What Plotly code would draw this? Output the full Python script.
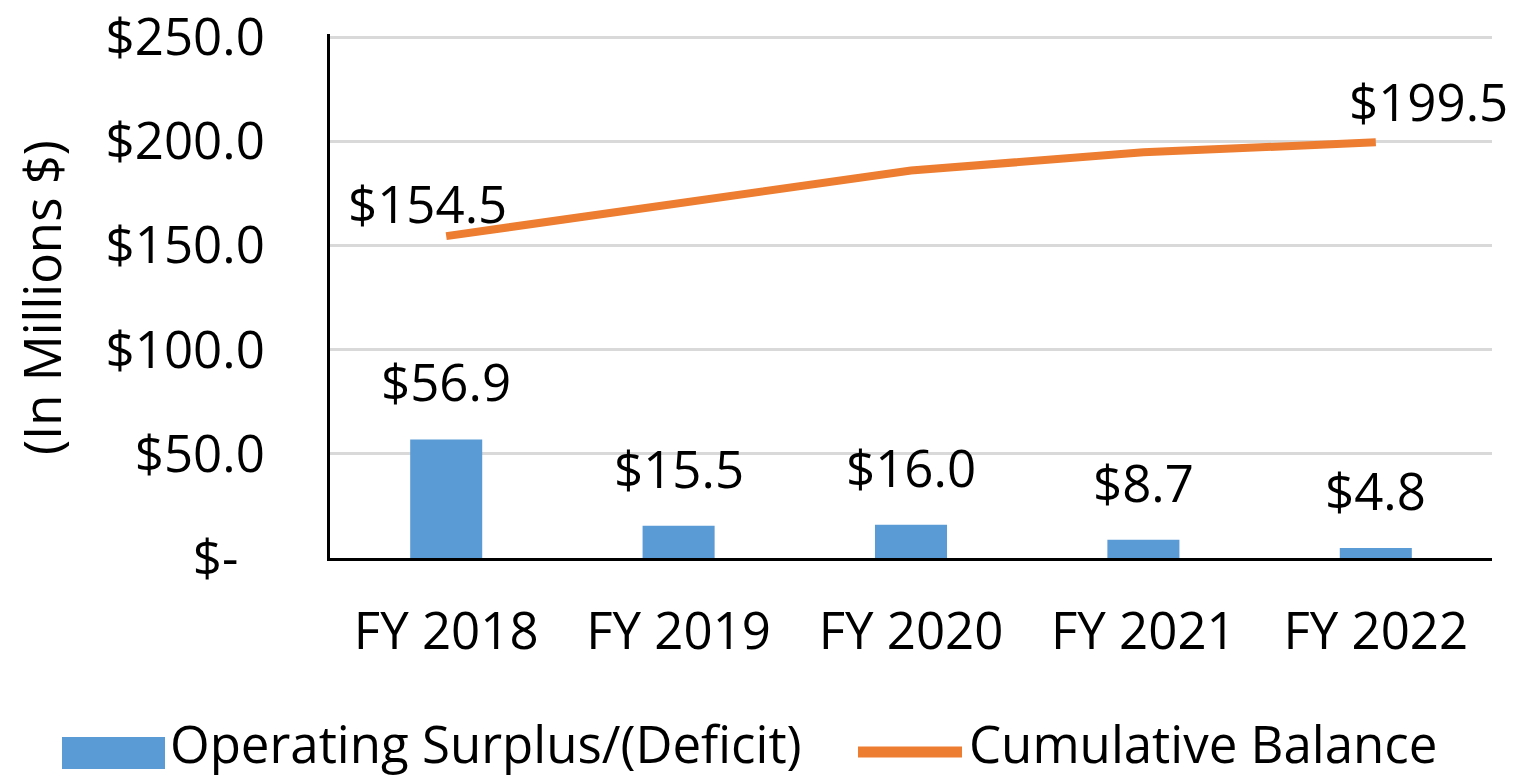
import plotly.graph_objects as go

categories = ["FY 2018", "FY 2019", "FY 2020", "FY 2021", "FY 2022"]
surplus = [56.9, 15.5, 16.0, 8.7, 4.8]
cumulative = [154.5, 170.0, 186.0, 194.7, 199.5]
y_tickvals = [0, 50, 100, 150, 200, 250]
y_ticktext = ["$-\u00a0\u00a0", "$50.0", "$100.0", "$150.0", "$200.0", "$250.0"]

FONT = "Open Sans"
FS = 51
BLUE = "#5B9BD5"
ORANGE = "#ED7D31"

W, H = 1517, 778
ML, MR, MT, MB = 330, 25, 34, 220
PW = W - ML - MR
PH = H - MT - MB


def px_x(px):
    return (px - ML) / PW


def px_y(py):
    return (H - MB - py) / PH


fig = go.Figure()
fig.add_trace(go.Bar(x=categories, y=surplus, name="Operating Surplus/(Deficit)",
                     marker=dict(color=BLUE, line=dict(width=0)), width=0.31,
                     showlegend=False))
fig.add_trace(go.Scatter(x=categories, y=cumulative, name="Cumulative Balance",
                         mode="lines", line=dict(color=ORANGE, width=8),
                         showlegend=False))

annotations = []
for c, v in zip(categories, surplus):
    annotations.append(dict(x=c, y=v, text=f"${v:.1f}", showarrow=False,
                            yanchor="bottom", yshift=21,
                            font=dict(family=FONT, size=FS, color="#000")))
annotations.append(dict(x=categories[0], y=cumulative[0], text=f"${cumulative[0]:.1f}",
                        showarrow=False, xanchor="center", yanchor="middle",
                        xshift=-19, yshift=33,
                        font=dict(family=FONT, size=FS, color="#000")))
annotations.append(dict(x=categories[-1], y=cumulative[-1], text=f"${cumulative[-1]:.1f}",
                        showarrow=False, xanchor="center", yanchor="middle",
                        xshift=53, yshift=41,
                        font=dict(family=FONT, size=FS, color="#000")))
# y-axis title
annotations.append(dict(xref="paper", yref="paper", x=px_x(41), y=px_y(298),
                        text="(In Millions $)", textangle=-90, showarrow=False,
                        xanchor="center", yanchor="middle",
                        font=dict(family=FONT, size=FS, color="#000")))
# legend texts
annotations.append(dict(xref="paper", yref="paper", x=px_x(169), y=px_y(743),
                        text="Operating Surplus/(Deficit)", showarrow=False,
                        xanchor="left", yanchor="middle", borderpad=0,
                        font=dict(family=FONT, size=FS, color="#000")))
annotations.append(dict(xref="paper", yref="paper", x=px_x(968), y=px_y(743),
                        text="Cumulative Balance", showarrow=False,
                        xanchor="left", yanchor="middle", borderpad=0,
                        font=dict(family=FONT, size=FS, color="#000")))

shapes = [
    dict(type="rect", xref="paper", yref="paper", x0=px_x(62), x1=px_x(165),
         y0=px_y(769), y1=px_y(737), fillcolor=BLUE, line=dict(width=0)),
    dict(type="line", xref="paper", yref="paper", x0=px_x(858), x1=px_x(962),
         y0=px_y(752), y1=px_y(752), line=dict(color=ORANGE, width=11)),
]

fig.update_layout(
    width=W, height=H,
    margin=dict(l=ML, r=MR, t=MT, b=MB, autoexpand=False),
    paper_bgcolor="white", plot_bgcolor="white",
    font=dict(family=FONT, size=FS, color="#000"),
    annotations=annotations, shapes=shapes,
    showlegend=False,
)
fig.update_xaxes(type="category", range=[-0.5, 4.5], showline=True, linecolor="#000",
                 linewidth=3, showgrid=False, ticks="", ticklabelstandoff=27,
                 automargin=False,
                 tickfont=dict(family=FONT, size=FS, color="#000"), fixedrange=True)
fig.update_yaxes(range=[0, 251.5], tickvals=y_tickvals, ticktext=y_ticktext,
                 showline=True, linecolor="#000", linewidth=3,
                 showgrid=True, gridcolor="#d9d9d9", gridwidth=3, zeroline=False,
                 ticks="", ticklabelstandoff=52, ticklabeloverflow="allow",
                 automargin=False,
                 tickfont=dict(family=FONT, size=FS, color="#000"), fixedrange=True)

fig.write_html("out.html", config={"displayModeBar": False},
               post_script="document.body.style.margin='0';document.body.style.overflow='hidden';")
